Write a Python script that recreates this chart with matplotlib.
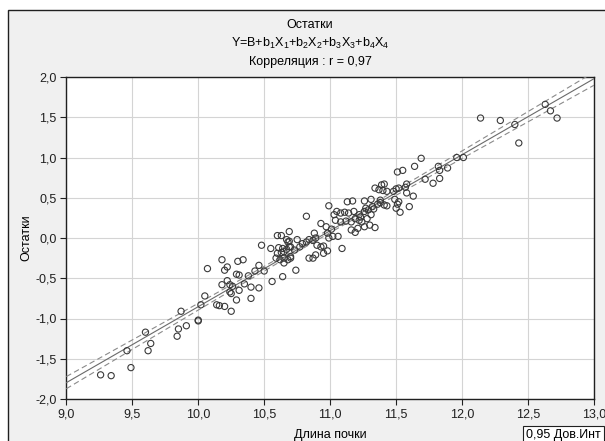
import numpy as np
import matplotlib
matplotlib.use("Agg")
import matplotlib.pyplot as plt
from matplotlib.patches import Rectangle
from matplotlib.ticker import FuncFormatter

plt.rcParams['font.family'] = ['Liberation Sans', 'DejaVu Sans']
plt.rcParams['mathtext.fontset'] = 'custom'
plt.rcParams['mathtext.rm'] = 'Liberation Sans'
plt.rcParams['mathtext.it'] = 'Liberation Sans'

# ---- data ----
bud_length = [
    9.26, 9.34, 9.49, 9.46, 9.60, 9.64, 9.62, 9.87, 9.85, 9.84, 9.91, 10.00, 10.00,
    10.02, 10.05, 10.14, 10.16, 10.20, 10.25, 10.29, 10.40, 10.24, 10.25, 10.31, 10.18,
    10.24, 10.26, 10.35, 10.40, 10.46, 10.22, 10.56, 10.29, 10.31, 10.38, 10.43, 10.50,
    10.64, 10.07, 10.20, 10.22, 10.46, 10.18, 10.30, 10.34, 10.48, 10.55, 10.65, 10.68,
    10.70, 10.74, 10.59, 10.62, 10.65, 10.70,
    10.60, 10.63, 10.67, 10.69, 10.61, 10.64, 10.67, 10.69, 10.60, 10.63, 10.65, 10.69,
    10.68, 10.70, 10.73, 10.77, 10.75, 10.79, 10.82, 10.84, 10.87, 10.89, 10.90, 10.93,
    10.95, 10.98, 10.95, 10.89, 10.84, 10.87, 11.09,
    10.82, 10.93, 10.97, 11.01, 10.98, 11.02, 11.06, 10.99,
    11.05, 11.08, 11.03, 11.11, 11.14, 11.18, 11.22, 11.23, 11.04, 11.08, 11.12, 11.16,
    11.19, 11.22, 11.24, 11.28, 11.31, 11.16, 11.19, 11.21, 11.26, 11.30, 11.34, 11.13,
    11.17, 11.26, 11.31, 11.27, 11.29, 11.26, 11.32, 11.33, 11.38, 10.88, 10.99,
    11.69, 11.64, 11.51, 11.55, 11.82, 11.83, 11.89, 11.72, 11.78, 11.83, 11.96, 12.01,
    11.41, 11.58, 11.57, 11.34, 11.37, 11.39, 11.40, 11.43,
    11.50, 11.52, 11.48, 11.58, 11.63, 11.49, 11.52, 11.51, 11.38, 11.41, 11.43, 11.36,
    11.50, 11.53, 11.60,
    12.63, 12.67, 12.72, 12.14, 12.29, 12.40, 12.43,
]
residuals = [
    -1.70, -1.71, -1.61, -1.40, -1.17, -1.31, -1.40, -0.91, -1.13, -1.22, -1.09, -1.03, -1.02,
    -0.83, -0.72, -0.83, -0.84, -0.85, -0.91, -0.77, -0.75, -0.67, -0.69, -0.65, -0.58,
    -0.58, -0.60, -0.57, -0.61, -0.62, -0.53, -0.54, -0.45, -0.46, -0.47, -0.41, -0.41,
    -0.48, -0.38, -0.40, -0.36, -0.34, -0.27, -0.29, -0.27, -0.09, -0.13, -0.31, -0.27,
    -0.23, -0.40, -0.25, -0.27, -0.25, -0.25,
    0.03, 0.03, -0.02, -0.04, -0.12, -0.13, -0.14, -0.11, -0.19, -0.18, -0.17, 0.08,
    -0.05, -0.11, -0.15, -0.11, -0.02, -0.07, -0.05, -0.02, -0.03, 0.00, -0.09, -0.11,
    -0.10, -0.16, -0.19, -0.21, -0.25, -0.25, -0.13,
    0.27, 0.18, 0.14, 0.11, 0.06, 0.02, 0.02, 0.40,
    0.33, 0.31, 0.29, 0.32, 0.31, 0.33, 0.29, 0.26, 0.22, 0.20, 0.21, 0.20,
    0.24, 0.22, 0.20, 0.24, 0.29, 0.10, 0.07, 0.12, 0.14, 0.16, 0.13, 0.45,
    0.46, 0.46, 0.48, 0.37, 0.35, 0.33, 0.39, 0.36, 0.47, 0.06, 0.00,
    0.99, 0.89, 0.82, 0.84, 0.89, 0.84, 0.87, 0.73, 0.68, 0.74, 1.00, 1.00,
    0.67, 0.67, 0.63, 0.62, 0.60, 0.66, 0.59, 0.58,
    0.61, 0.62, 0.58, 0.56, 0.52, 0.48, 0.45, 0.42, 0.44, 0.41, 0.40, 0.42,
    0.37, 0.32, 0.39,
    1.66, 1.58, 1.49, 1.49, 1.46, 1.41, 1.18,
]
x_ticks = [9.0, 9.5, 10.0, 10.5, 11.0, 11.5, 12.0, 12.5, 13.0]
y_ticks = [-2.0, -1.5, -1.0, -0.5, 0.0, 0.5, 1.0, 1.5, 2.0]
title_lines = ["Остатки",
               r"Y=B+b$_\mathregular{1}$X$_\mathregular{1}$+b$_\mathregular{2}$X$_\mathregular{2}$"
               r"+b$_\mathregular{3}$X$_\mathregular{3}$+b$_\mathregular{4}$X$_\mathregular{4}$",
               "Корреляция : r = 0,97"]
x_label = "Длина почки"
y_label = "Остатки"
legend_text = "0,95 Дов.Инт"

x = np.array(bud_length)
y = np.array(residuals)

# ---- figure ----
W, H = 605, 441
fig = plt.figure(figsize=(W / 100, H / 100), dpi=100, facecolor='white')

# outer grey panel with frame
fig.patches.append(Rectangle((8 / W, -0.1), 1.2, 1.1 - 10 / H, transform=fig.transFigure,
                             facecolor='#f0f0f0', edgecolor='#202020', linewidth=1.0,
                             zorder=-10))

ax = fig.add_axes([66.3 / W, (H - 399) / H, (594 - 66.3) / W, (399 - 77) / H])
ax.set_zorder(1)
ax.set_facecolor('white')

# regression + 95% confidence band
n = len(x)
b1, b0 = np.polyfit(x, y, 1)
xx = np.linspace(9.0, 13.0, 200)
yy = b0 + b1 * xx
res = y - (b0 + b1 * x)
s = np.sqrt(np.sum(res ** 2) / (n - 2))
sxx = np.sum((x - x.mean()) ** 2)
se = s * np.sqrt(1 / n + (xx - x.mean()) ** 2 / sxx)
t = 1.973
ax.plot(xx, yy, color='#6a6a6a', lw=0.8, zorder=3)
ax.plot(xx, yy + t * se, color='#8a8a8a', lw=0.8, dashes=(5, 3), zorder=3)
ax.plot(xx, yy - t * se, color='#8a8a8a', lw=0.8, dashes=(5, 3), zorder=3)

ax.scatter(x, y, s=20, facecolors='none', edgecolors='#3a3a3a', linewidths=0.8, zorder=4)

ax.set_xlim(9.0, 13.0)
ax.set_ylim(-2.0, 2.0)
ax.set_xticks(x_ticks)
ax.set_yticks(y_ticks)
fmt = FuncFormatter(lambda v, p: f"{v:.1f}".replace('.', ','))
ax.xaxis.set_major_formatter(fmt)
ax.yaxis.set_major_formatter(fmt)
ax.grid(True, color='#d4d4d4', lw=0.8, zorder=1)
ax.set_axisbelow(True)
ax.tick_params(direction='out', length=4, width=0.8, colors='#202020', labelsize=9,
               pad=3)
for sp in ax.spines.values():
    sp.set_color('#202020')
    sp.set_linewidth(1.0)

ax.set_xlabel(x_label, fontsize=9, labelpad=6)
ax.set_ylabel(y_label, fontsize=9, labelpad=2)

# title lines
fig.text(310 / W, 1 - 25 / H, title_lines[0], ha='center', va='center', fontsize=9)
fig.text(310 / W, 1 - 43 / H, title_lines[1], ha='center', va='center', fontsize=9)
fig.text(310 / W, 1 - 62 / H, title_lines[2], ha='center', va='center', fontsize=9)

# legend box (cut by the figure edge as in the reference)
fig.text(526 / W, 6 / H, legend_text, ha='left', va='center', fontsize=9, zorder=5,
         bbox=dict(boxstyle='square,pad=0.25', facecolor='white', edgecolor='#202020',
                   linewidth=0.8))

fig.savefig('out.png', dpi=100, facecolor=fig.get_facecolor())
